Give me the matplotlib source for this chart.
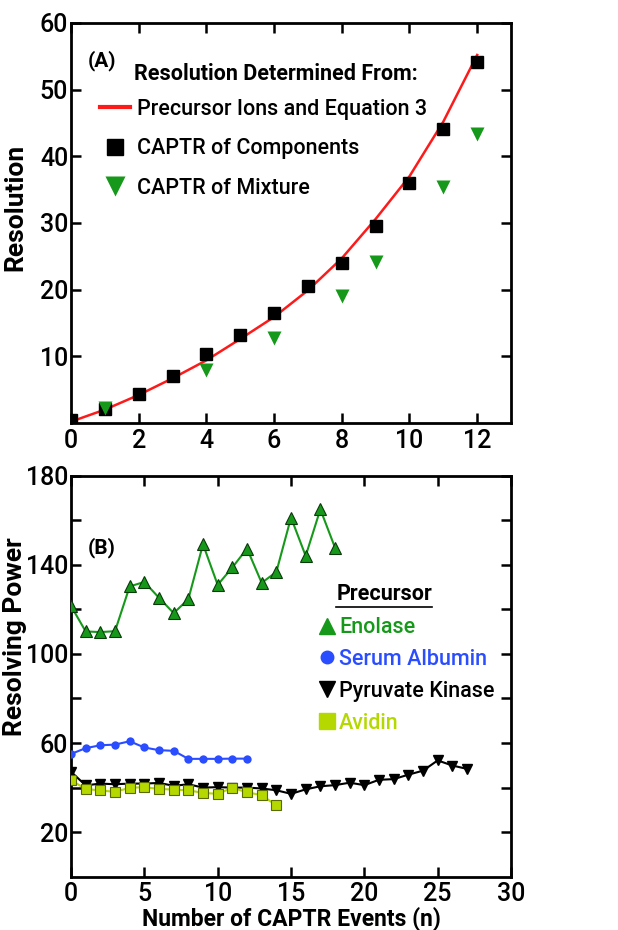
import numpy as np
import matplotlib.pyplot as plt
from matplotlib.lines import Line2D

plt.rcParams['font.family'] = ['Roboto', 'DejaVu Sans']

# Panel A: resolution vs number of CAPTR events
n_eq = np.arange(0, 13)
res_eq = [0.2, 2.0, 4.2, 6.7, 9.4, 12.6, 15.9, 19.9, 24.7, 30.6, 37.0, 45.2, 55.2]
n_comp = np.arange(0, 13)
res_comp = [0.5, 2.1, 4.4, 7.1, 10.3, 13.2, 16.5, 20.5, 24.0, 29.6, 36.0, 44.1, 54.2]
n_mix = [1, 4, 6, 8, 9, 11, 12]
res_mix = [2.2, 7.9, 12.7, 19.1, 24.2, 35.4, 43.4]

# Panel B: resolving power per precursor
n_eno = np.arange(0, 19)
rp_eno = [121.5, 110.1, 109.8, 110.2, 130.3, 132.3, 125.2, 118.3, 124.6, 149.2,
          131.0, 138.8, 147.3, 131.9, 136.8, 161.2, 144.0, 164.9, 147.7]
n_bsa = np.arange(0, 13)
rp_bsa = [55.1, 57.7, 59.0, 59.3, 60.8, 58.0, 56.8, 56.5, 52.9, 52.9, 52.9, 53.0, 53.0]
n_pk = np.arange(0, 28)
rp_pk = [47.1, 41.0, 41.8, 41.5, 41.8, 41.8, 42.1, 40.8, 41.5, 40.0, 40.2, 40.0,
         40.0, 39.6, 38.8, 37.2, 39.2, 40.6, 41.1, 42.2, 41.1, 43.5, 43.8, 45.8,
         47.6, 52.2, 49.9, 48.4]
n_av = np.arange(0, 15)
rp_av = [43.3, 39.4, 38.7, 38.1, 39.9, 40.2, 39.4, 39.1, 38.8, 37.6, 37.2, 39.9,
         37.9, 36.6, 32.0]
labels_b = ['Enolase', 'Serum Albumin', 'Pyruvate Kinase', 'Avidin']

RED = '#ff1a1a'
GREEN = '#16991a'
BLUE = '#2a4dff'
AVID = '#b5d800'

fig = plt.figure(figsize=(6.18, 9.30), dpi=100)
axA = fig.add_axes([0.1149, 0.5452, 0.712, 0.4301])
axB = fig.add_axes([0.1149, 0.0573, 0.712, 0.4312])

for ax in (axA, axB):
    for s in ax.spines.values():
        s.set_linewidth(2)
    ax.tick_params(which='both', direction='in', top=True, right=True,
                   length=7, width=1.8, labelsize=18)
    ax.tick_params(axis='y', pad=2)
    ax.tick_params(axis='x', pad=4)
    for lab in ax.get_xticklabels() + ax.get_yticklabels():
        lab.set_fontweight(500)

# ---- panel A
axA.plot(n_eq, res_eq, color=RED, lw=1.8, zorder=2)
axA.plot(n_comp, res_comp, 's', color='black', ms=9, zorder=3)
axA.plot(n_mix, res_mix, 'v', color=GREEN, ms=10, mec='none', zorder=4)
axA.set_xlim(0, 13)
axA.set_ylim(0, 60)
axA.set_xticks(range(0, 13, 2))
axA.set_yticks(range(10, 61, 10))
axA.set_ylabel('Resolution', fontsize=19, fontweight='bold')
axA.yaxis.set_label_coords(-0.1, 0.54)

axA.text(0.038, 0.905, '(A)', transform=axA.transAxes, fontsize=15,
         fontweight='bold', va='center')
axA.text(0.143, 0.873, 'Resolution Determined From:', transform=axA.transAxes,
         fontsize=15.5, fontweight='bold', va='center')
hA = [Line2D([], [], color=RED, lw=3),
      Line2D([], [], ls='none', marker='s', color='black', ms=12),
      Line2D([], [], ls='none', marker='v', color=GREEN, mec='none', ms=14)]
legA = axA.legend(hA, ['Precursor Ions and Equation 3', 'CAPTR of Components',
                       'CAPTR of Mixture'],
                  loc='upper left', bbox_to_anchor=(0.065, 0.81), frameon=False,
                  prop={'size': 15.5, 'weight': 500}, borderpad=0,
                  borderaxespad=0, handlelength=1.4, handletextpad=0.35,
                  labelspacing=0.85)

# ---- panel B
axB.plot(n_av, rp_av, '-s', color=AVID, lw=1.5, ms=7, mec='#5a6a00', mew=0.8, zorder=3)
axB.plot(n_pk, rp_pk, '-v', color='black', lw=1.5, ms=7, zorder=2)
axB.plot(n_bsa, rp_bsa, '-o', color=BLUE, lw=1.5, ms=6, mec='none', zorder=3)
axB.plot(n_eno, rp_eno, '-^', color=GREEN, lw=1.5, ms=8, mec='#0a3a0a', mew=0.8, zorder=3)
axB.set_xlim(0, 30)
axB.set_ylim(0, 180)
axB.set_xticks(range(0, 31, 5))
axB.set_yticks([20, 60, 100, 140, 180])
axB.set_yticks([40, 80, 120, 160], minor=True)
axB.set_ylabel('Resolving Power', fontsize=19, fontweight='bold')
axB.yaxis.set_label_coords(-0.1, 0.598)
axB.set_xlabel('Number of CAPTR Events (n)', fontsize=16.5, fontweight='bold',
               labelpad=0)

axB.text(0.038, 0.82, '(B)', transform=axB.transAxes, fontsize=15,
         fontweight='bold', va='center')
tP = axB.text(0.603, 0.705, 'Precursor', transform=axB.transAxes, fontsize=15.5,
              fontweight='bold', va='center')
hB = [Line2D([], [], ls='none', marker='^', color=GREEN, ms=12),
      Line2D([], [], ls='none', marker='o', color=BLUE, ms=9),
      Line2D([], [], ls='none', marker='v', color='black', ms=12),
      Line2D([], [], ls='none', marker='s', color=AVID, ms=11)]
legB = axB.legend(hB, labels_b, loc='upper left', bbox_to_anchor=(0.565, 0.647),
                  frameon=False, prop={'size': 15.5, 'weight': 500}, borderpad=0,
                  borderaxespad=0, handlelength=0.7, handletextpad=0.2,
                  labelspacing=0.5)
for t, c in zip(legB.get_texts(), [GREEN, BLUE, 'black', AVID]):
    t.set_color(c)

# underline under "Precursor"
fig.canvas.draw()
bb = tP.get_window_extent().transformed(axB.transAxes.inverted())
axB.plot([bb.x0, bb.x1], [bb.y0 - 0.004, bb.y0 - 0.004], transform=axB.transAxes,
         color='black', lw=1.2, clip_on=False)

fig.savefig('out.png', dpi=100)
